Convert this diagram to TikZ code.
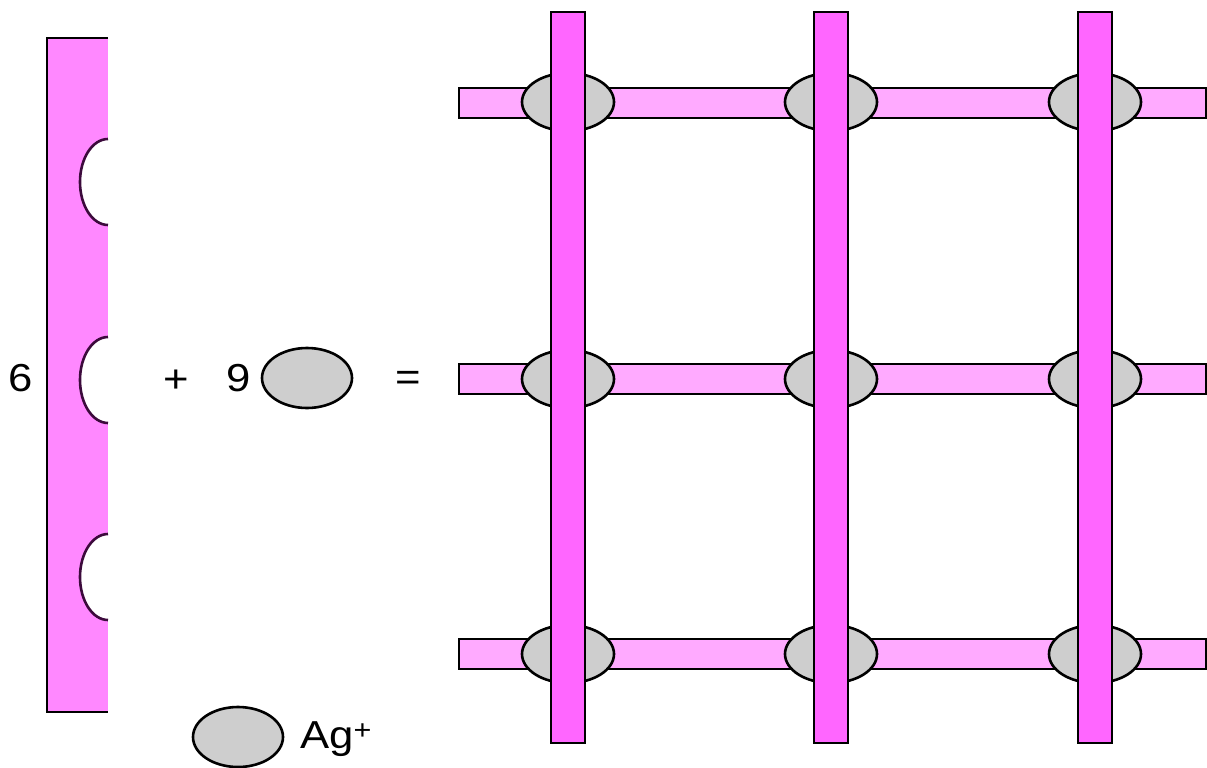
\documentclass[tikz,border=0pt]{standalone}
\usepackage{fontspec}
\setmainfont{Liberation Sans}
\definecolor{strippink}{RGB}{255,136,255}
\definecolor{vbarpink}{RGB}{255,102,255}
\definecolor{hbarpink}{RGB}{255,170,255}
\definecolor{iongray}{RGB}{206,206,206}
\definecolor{notchline}{RGB}{60,10,60}
\tikzset{
  hbar/.style={fill=hbarpink,draw=black,line width=2.6pt},
  vbar/.style={fill=vbarpink,draw=black,line width=2.6pt},
  ion/.style={fill=iongray,draw=black,line width=2.6pt},
  notchline/.style={draw=notchline,line width=2.6pt},
  lbl/.style={inner sep=0pt,xscale=1.12,font=\fontsize{39}{41}\selectfont}
}
\begin{document}
\begin{tikzpicture}[x=1pt,y=1pt]
\useasboundingbox (0,0) rectangle (1207,-768);
% left strip
\fill[strippink] (47,-38) rectangle (108,-712);
\draw[black,line width=2.6pt] (108,-38) -- (47,-38) -- (47,-712) -- (108,-712);
\foreach \c in {182,380,577}{
  \fill[white] (108,-\c+43) arc[start angle=90,end angle=270,x radius=28,y radius=43] -- cycle;
  \draw[notchline] (108,-\c+43) arc[start angle=90,end angle=270,x radius=28,y radius=43];
}
\node[lbl] (six) at (21,-378) {6};
\node[lbl] (plus) at (176,-381) {+};
\node[lbl] (nine) at (239,-378) {9};
\draw[ion] (307,-378) ellipse[x radius=45,y radius=30];
\node[lbl] (eq) at (408,-381) {=};
% legend
\draw[ion] (238,-737) ellipse[x radius=45,y radius=30];
\node[lbl,anchor=west] (ag) at (300,-739) {Ag\textsuperscript{+}};
% grid: horizontal bars
\foreach \y in {103,379,654}{
  \draw[hbar] (459,-\y+15) rectangle (1206,-\y-15);
}
% ions
\foreach \x in {568,831,1095}{
  \foreach \y in {102,379,654}{
    \draw[ion] (\x,-\y) ellipse[x radius=46,y radius=29];
  }
}
% vertical bars
\foreach \x in {568,831,1095}{
  \draw[vbar] (\x-17,-12) rectangle (\x+17,-743);
}
\end{tikzpicture}
\end{document}
